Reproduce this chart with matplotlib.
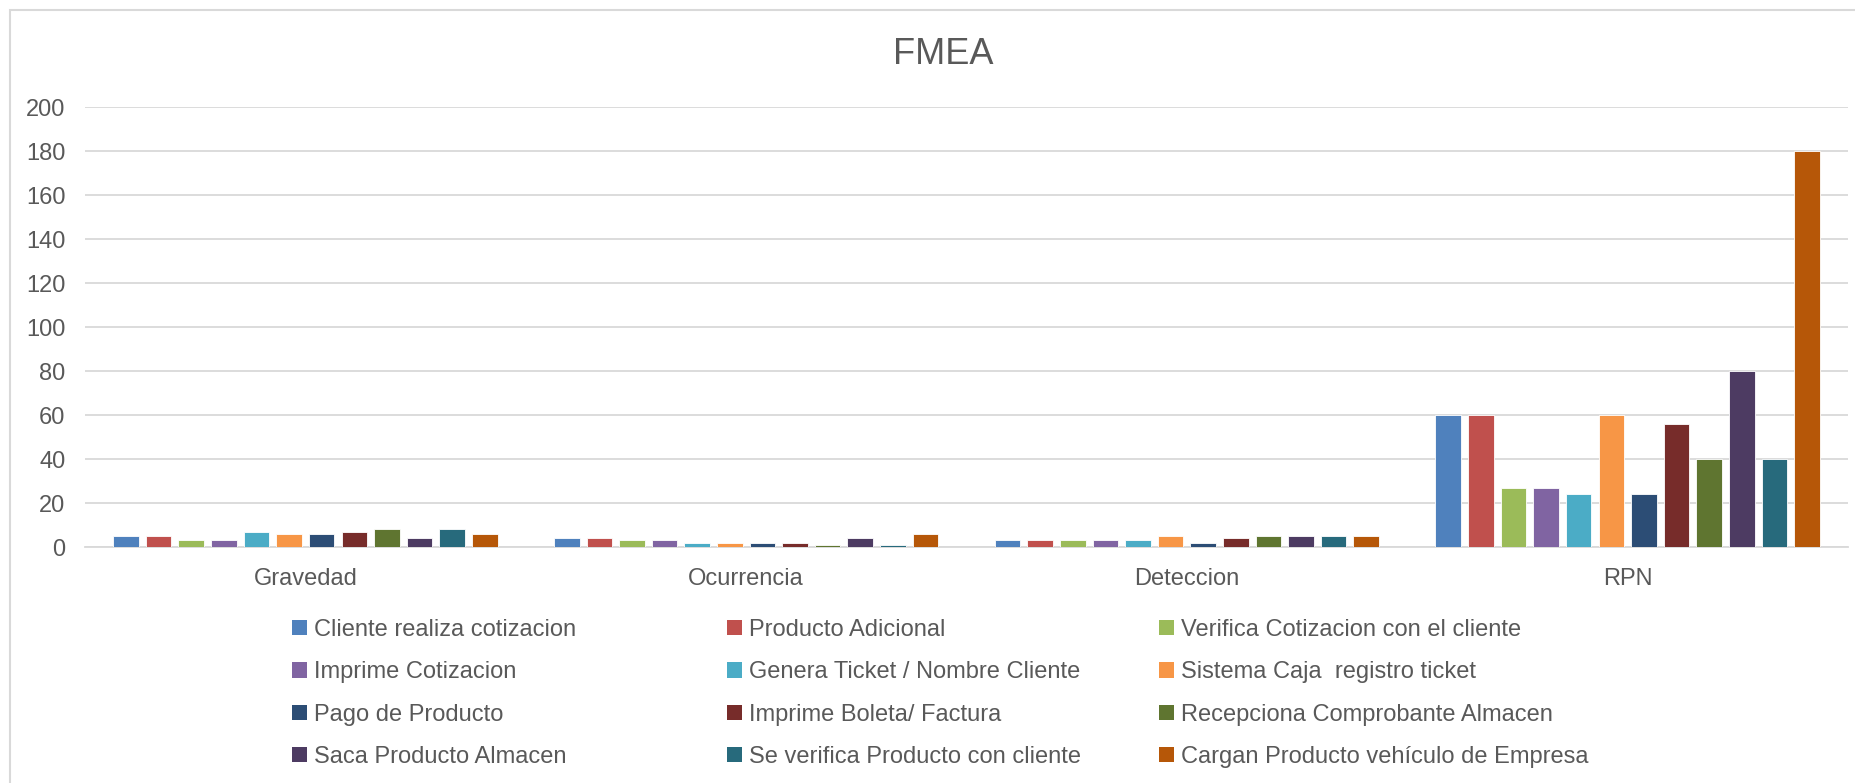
import numpy as np
import matplotlib
matplotlib.use("Agg")
import matplotlib.pyplot as plt
from matplotlib.patches import Rectangle, Patch

plt.rcParams['font.family'] = ['Liberation Sans', 'DejaVu Sans']

# FMEA criteria and process steps
criteria = ['Gravedad', 'Ocurrencia', 'Deteccion', 'RPN']
steps = [
    'Cliente realiza cotizacion',
    'Producto Adicional',
    'Verifica Cotizacion con el cliente',
    'Imprime Cotizacion',
    'Genera Ticket / Nombre Cliente',
    'Sistema Caja  registro ticket',
    'Pago de Producto',
    'Imprime Boleta/ Factura',
    'Recepciona Comprobante Almacen',
    'Saca Producto Almacen',
    'Se verifica Producto con cliente',
    'Cargan Producto vehículo de Empresa',
]
gravedad = [5, 5, 3, 3, 7, 6, 6, 7, 8, 4, 8, 6]
ocurrencia = [4, 4, 3, 3, 2, 2, 2, 2, 1, 4, 1, 6]
deteccion = [3, 3, 3, 3, 3, 5, 2, 4, 5, 5, 5, 5]
rpn = [60, 60, 27, 27, 24, 60, 24, 56, 40, 80, 40, 180]
colors = ['#4F81BD', '#C0504D', '#9BBB59', '#8064A2', '#4BACC6', '#F79646',
          '#2C4D75', '#772C2A', '#5F7530', '#4D3B62', '#276A7C', '#B65708']

values = np.array([gravedad, ocurrencia, deteccion, rpn]).T  # one row per step

W, H = 1856, 783
fig = plt.figure(figsize=(W / 100, H / 100), dpi=100)
ax = fig.add_axes([85 / W, 1 - 547 / H, (1848 - 85) / W, (547 - 107) / H])

text_col = '#595959'
grid_col = '#D9D9D9'
fs = 17

n = len(steps)
pitch = 0.074
width = 0.058
x = np.arange(len(criteria))
for i in range(n):
    offs = (i - (n - 1) / 2) * pitch
    ax.bar(x + offs, values[i], width=width, color=colors[i],
           edgecolor='white', linewidth=0.6, zorder=3, label=steps[i])

ax.set_xlim(-0.5, len(criteria) - 0.5)
ax.set_ylim(0, 200)
ax.set_yticks(np.arange(0, 201, 20))
ax.set_xticks(x)
ax.set_xticklabels(criteria)
ax.tick_params(axis='both', length=0, labelsize=fs, colors=text_col)
ax.tick_params(axis='y', pad=14)
ax.tick_params(axis='x', pad=15)
ax.grid(axis='y', color=grid_col, linewidth=1.3, zorder=0)
for s in ['top', 'right', 'left']:
    ax.spines[s].set_visible(False)
ax.spines['bottom'].set_color(grid_col)
ax.spines['bottom'].set_linewidth(1.3)

fig.text(943 / W, 1 - 55 / H, 'FMEA', ha='center', va='center',
         fontsize=26, color=text_col)

# chart frame
fig.patches.append(Rectangle((10 / W, -0.1), 1.2, 1 - 10 / H + 0.1,
                             transform=fig.transFigure, fill=False,
                             edgecolor=grid_col, linewidth=1.5))

# legend: three columns, filled row by row
col_x = [292, 727, 1159]
for c in range(3):
    idx = [c, c + 3, c + 6, c + 9]
    handles = [Patch(facecolor=colors[k], edgecolor='none') for k in idx]
    leg = fig.legend(handles, [steps[k] for k in idx], loc='upper left',
                     bbox_to_anchor=(col_x[c] / W, 1 - 619 / H),
                     frameon=False, fontsize=fs, handlelength=0.62,
                     handleheight=0.62, handletextpad=0.3, labelspacing=0.86,
                     borderpad=0, borderaxespad=0)
    for t in leg.get_texts():
        t.set_color(text_col)

fig.savefig('out.png', dpi=100)
